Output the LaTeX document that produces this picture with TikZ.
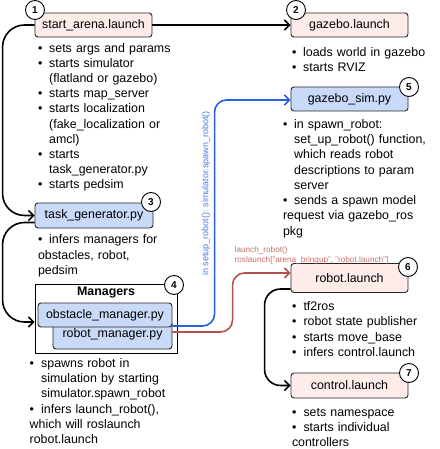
\documentclass[tikz,border=0pt]{standalone}
\usepackage{fontspec}
\setmainfont{Liberation Sans}
\usetikzlibrary{arrows.meta,calc}
\definecolor{pinkfill}{RGB}{253,236,234}
\definecolor{bluefill}{RGB}{201,218,248}
\definecolor{bline}{RGB}{40,95,225}
\definecolor{rline}{RGB}{180,80,78}
\definecolor{rtext}{RGB}{200,110,105}
\definecolor{btext}{RGB}{70,120,230}
\newlength\bw
\newcommand\bi[1]{\par\hangindent=\bw\hangafter=1\noindent\makebox[\bw][l]{\textbullet}\strut#1}
\tikzset{
 box/.style={draw=black!85, line width=0.9pt, rounded corners=3pt, minimum width=117pt, minimum height=24pt, inner sep=0pt, font=\fontsize{12.4}{14}\selectfont},
 pinkbox/.style={box, fill=pinkfill},
 bluebox/.style={box, fill=bluefill},
 badge/.style={circle, draw=black, line width=0.9pt, fill=white, minimum size=19pt, inner sep=0pt, font=\bfseries\fontsize{10}{10}\selectfont},
 blist/.style={anchor=north west, inner sep=0pt, text width=170pt, font=\fontsize{12.4}{15.2}\selectfont},
 conn/.style={line width=1.6pt, rounded corners=22pt, -{Straight Barb[length=5pt,width=10pt,line width=1.6pt]}},
 lbl/.style={inner sep=0pt},
}
\begin{document}
\begin{tikzpicture}[x=1pt,y=-1pt]
\useasboundingbox (0,0) rectangle (439,449);
% boxes
\node[pinkbox] (sa) at (93.5,25) {start\_arena.launch};
\node[pinkbox] (gl) at (349.5,25) {gazebo.launch};
\node[bluebox] (gs) at (349.5,99) {gazebo\_sim.py};
\node[bluebox, minimum width=118pt, minimum height=25pt] (tg) at (94,215.5) {task\_generator.py};
\node[pinkbox, minimum height=29pt] (rl) at (349.5,278) {robot.launch};
\node[pinkbox, minimum height=25pt] (cl) at (349.5,385.5) {control.launch};
\node[draw, line width=0.9pt, minimum width=142pt, minimum height=69pt, inner sep=0pt] (mg) at (106,318.5) {};
\node[font=\bfseries\fontsize{12.4}{14}\selectfont, inner sep=0pt] (mt) at (106,293) {Managers};
\node[bluebox, minimum width=119pt, minimum height=29pt] (rm) at (112.5,334.5) {robot\_manager.py};
\node[bluebox, minimum width=134pt] (om) at (105,315) {obstacle\_manager.py};
% connectors
\draw[conn] (sa) -- (gl);
\draw[conn] (sa.west) -| ($(tg.west)+(-32,0)$) -- (tg.west);
\draw[conn] ($(tg.west)+(0,7)$) -| ($(mg.west)+(-32,3.5)$) -- ($(mg.west)+(0,3.5)$);
\draw[conn, rounded corners=16pt] ($(rl.west)+(0,11)$) -| ($(cl.west)+(-26,0)$) -- (cl.west);
\draw[conn, bline, rounded corners=12pt] ($(om.east)+(0,11)$) -| ($(gs.west)+(-76,1)$) -- ($(gs.west)+(0,1)$);
\draw[conn, rline, rounded corners=12pt] ($(rm.east)+(0,-2.5)$) -| ($(rl.west)+(-58,-5)$) -- ($(rl.west)+(0,-5)$);
% labels
\node[lbl, font=\fontsize{9}{10}\selectfont, text=btext, rotate=90] (bl) at (206,193.5) {in setup\_robot(): simulator.spawn\_robot()};
\node[lbl, font=\fontsize{8.2}{10.3}\selectfont, text=rtext, anchor=west, align=left] (rlab) at (234.5,255.5) {launch\_robot()\\roslaunch["arena\_bringup", "robot.launch"]};
% badges
\node[badge] (b1) at (35,10) {1};
\node[badge] (b2) at (296,10) {2};
\node[badge] (b3) at (151,202) {3};
\node[badge] (b4) at (174,285) {4};
\node[badge] (b5) at (409,87) {5};
\node[badge] (b6) at (408,267) {6};
\node[badge] (b7) at (409,373) {7};
% lists
\node[blist] (l1) at (37.8,36.8) {\setlength\bw{11.2pt}%
\bi{sets args and params}
\bi{starts simulator\newline(flatland or gazebo)}
\bi{starts map\_server}
\bi{starts localization\newline(fake\_localization or\newline amcl)}
\bi{starts\newline task\_generator.py}
\bi{starts pedsim}};
\node[blist] (l2) at (292,41.4) {\setlength\bw{11pt}%
\bi{loads world in gazebo}
\bi{starts RVIZ}};
\node[blist] (l5) at (282.8,113.2) {\setlength\bw{11.2pt}%
\bi{in spawn\_robot:\newline set\_up\_robot() function,\newline which reads robot\newline descriptions to param\newline server}
\bi{sends a spawn model\newline request via gazebo\_ros\newline pkg}};
\node[blist] (l3) at (37.8,228.4) {\setlength\bw{11.2pt}%
\bi{infers managers for\newline obstacles, robot,\newline pedsim}};
\node[blist] (l4) at (29.5,352) {\setlength\bw{11.5pt}%
\bi{spawns robot in\newline simulation by starting\newline simulator.spawn\_robot}
\bi{infers launch\_robot(),\newline which will roslaunch\newline robot.launch}};
\node[blist] (l6) at (291.8,295.2) {\setlength\bw{11.5pt}%
\bi{tf2ros}
\bi{robot state publisher}
\bi{starts move\_base}
\bi{infers control.launch}};
\node[blist] (l7) at (291.8,400.8) {\setlength\bw{11.5pt}%
\bi{sets namespace}
\bi{starts individual\newline controllers}};
\end{tikzpicture}
\end{document}
